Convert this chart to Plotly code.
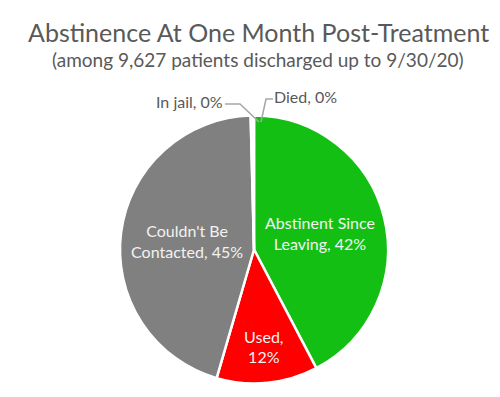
import plotly.graph_objects as go

labels = ["Abstinent Since Leaving", "Used", "Couldn't Be Contacted", "In jail", "Died"]
values = [42.3, 12.2, 45.1, 0.2, 0.2]
pct_text = ["42%", "12%", "45%", "0%", "0%"]
colors = ["#14bf14", "#ff0000", "#808080", "#808080", "#808080"]
templates = ["Abstinent Since<br>Leaving, %{text}", "%{label},<br>%{text}",
             "Couldn't Be<br>Contacted, %{text}", "", ""]

W, H = 500, 397
FONT = "Lato, Open Sans, sans-serif"
GREY_TXT = "#595959"

def px(x, y):
    return x / W, 1 - y / H

fig = go.Figure(go.Pie(
    labels=labels,
    values=values,
    text=pct_text,
    texttemplate=templates,
    sort=False,
    direction="clockwise",
    rotation=0,
    marker=dict(colors=colors, line=dict(color="white", width=2.5)),
    textposition="inside",
    insidetextorientation="horizontal",
    insidetextfont=dict(family=FONT, size=16, color="#f2f2f2"),
    showlegend=False,
    domain=dict(x=[112 / W, 380 / W], y=[1 - 375.5 / H, 1 - 107.5 / H]),
))

annotations = []
for txt, yc, size in [("Abstinence At One Month Post-Treatment", 24, 25),
                      ("(among 9,627 patients discharged up to 9/30/20)", 51, 19)]:
    annotations.append(dict(text=txt, x=0.5, y=1 - yc / H, xref="paper", yref="paper",
                            xanchor="center", yanchor="middle", showarrow=False,
                            font=dict(family=FONT, size=size, color=GREY_TXT)))

small = [(3, 217, 93, "right"), (4, 264, 88, "left")]
for idx, x, y, anchor in small:
    xp, yp = px(x, y)
    annotations.append(dict(text=f"{labels[idx]}, {pct_text[idx]}", x=xp, y=yp,
                            xref="paper", yref="paper", xanchor=anchor, yanchor="middle",
                            showarrow=False, font=dict(family=FONT, size=16, color=GREY_TXT)))

def path(points):
    s = ""
    for i, (x, y) in enumerate(points):
        xp, yp = px(x, y)
        s += ("M" if i == 0 else " L") + f" {xp:.4f} {yp:.4f}"
    return s

shapes = [
    dict(type="path", xref="paper", yref="paper", path=path([(217, 96), (232, 96), (251, 114)]),
         line=dict(color="#a6a6a6", width=1.5)),
    dict(type="path", xref="paper", yref="paper", path=path([(265, 91), (258, 91), (253, 114)]),
         line=dict(color="#a6a6a6", width=1.5)),
]

fig.update_layout(
    width=W, height=H,
    margin=dict(l=0, r=0, t=0, b=0),
    paper_bgcolor="white",
    plot_bgcolor="white",
    annotations=annotations,
    shapes=shapes,
)

fig.write_html("out.html")
